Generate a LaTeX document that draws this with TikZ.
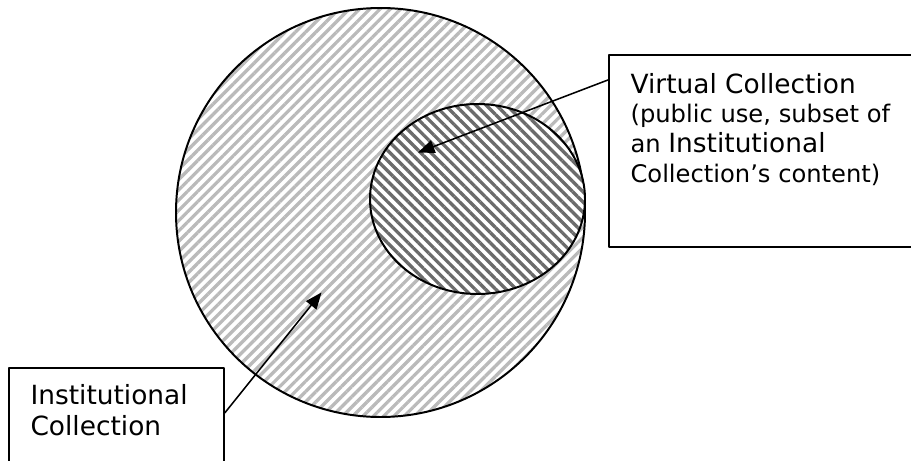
\documentclass[tikz,border=0pt]{standalone}
\usepackage{fontspec}
\setmainfont{DejaVu Sans}
\usetikzlibrary{arrows.meta,patterns.meta}
\begin{document}
\begin{tikzpicture}[x=0.4545pt,y=-0.4545pt,line join=round,
  bigdisc/.style={draw,line width=0.9pt,pattern={Lines[angle=45,distance=3.3pt,line width=1.5pt]},pattern color=black!27},
  smalldisc/.style={draw,line width=0.9pt,preaction={fill=white},pattern={Lines[angle=-45,distance=3.3pt,line width=1.5pt]},pattern color=black!58},
  labelbox/.style={draw,line width=0.9pt,anchor=north west,inner xsep=9.8pt,inner ysep=0pt},
  pointer/.style={line width=0.7pt,-{Triangle[length=7.5pt,width=6pt]}}]
  \useasboundingbox (0,0) rectangle (911,461);
  % the two collections
  \draw[bigdisc] (380.5,212.5) circle[radius=204.5];
  \draw[smalldisc] (477.5,199) ellipse[x radius=107.5,y radius=95];
  % label boxes, both run past the page edge
  \node[labelbox] (vbox) at (608,54) {\begin{minipage}[t][87.3pt][t]{130pt}
    \fontsize{12}{13.6}\selectfont\rule{0pt}{17.3pt}Virtual Collection\\
    {\fontsize{11}{13.6}\selectfont (public use, subset of\\ an }Institutional\\
    {\fontsize{11}{13.6}\selectfont Collection’s content)}
  \end{minipage}};
  \node[labelbox] (ibox) at (8,367) {\begin{minipage}[t][50pt][t]{78pt}
    \fontsize{12}{14.1}\selectfont\rule{0pt}{16.8pt}Institutional\\
    Collection
  \end{minipage}};
  % pointers
  \coordinate (vtip) at (418,152.5);
  \coordinate (itip) at (321.5,292.5);
  \draw[pointer] ([yshift=-11.8pt]vbox.north west) -- (vtip);
  \draw[pointer] ([yshift=-20.9pt]ibox.north east) -- (itip);
\end{tikzpicture}
\end{document}
